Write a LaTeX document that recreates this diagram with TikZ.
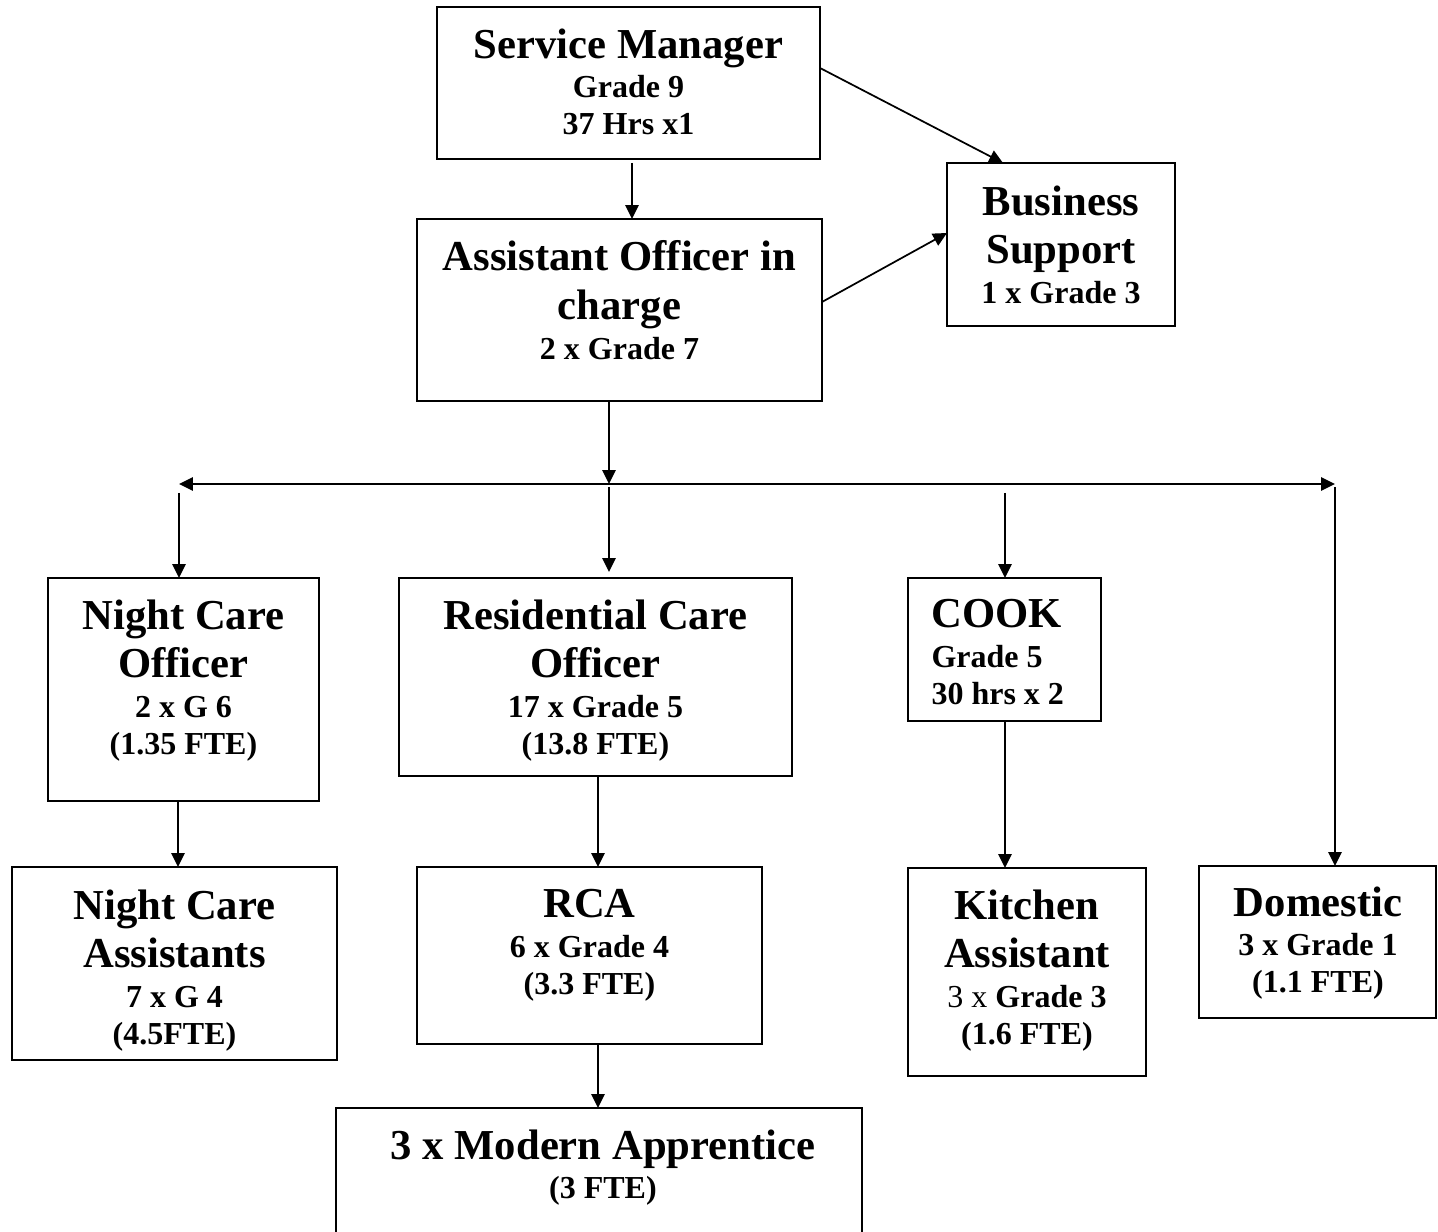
\documentclass[tikz,border=0pt]{standalone}
\usepackage{fontspec}
\setmainfont{Liberation Serif}
\usetikzlibrary{arrows.meta}
\newcommand\LG[1]{{\fontsize{16}{18.3}\selectfont #1}}
\newcommand\orgbox[5]{\node[box, minimum width={(#4-#2)*0.375pt}, minimum height={(#5-#3)*0.375pt}] (#1) at ({(#2+#4)/2},{(#3+#5)/2}) {};}
\setlength{\lineskiplimit}{-50pt}
\begin{document}
\begin{tikzpicture}[x=0.375pt,y=-0.375pt,
  box/.style={draw,line width=0.85pt,inner sep=0pt,outer sep=0pt,rectangle},
  txt/.style={inner sep=0pt,align=center,anchor=north,font=\fontsize{12}{13.7}\selectfont\bfseries},
  conn/.style={line width=0.65pt,-{Triangle[length=5.2pt,width=5pt]}},
  dconn/.style={line width=0.65pt,{Triangle[length=5.2pt,width=5pt]}-{Triangle[length=5.2pt,width=5pt]}},
]
\clip (0,0) rectangle (1438,1232);
\fill[white] (0,0) rectangle (1438,1232);

% boxes
\orgbox{sm}{437}{7}{820}{159}
\orgbox{bs}{947}{163}{1175}{326}
\orgbox{ao}{417}{219}{822}{401}
\orgbox{nco}{48}{578}{319}{801}
\orgbox{rco}{399}{578}{792}{776}
\orgbox{cook}{908}{578}{1101}{721}
\orgbox{nca}{12}{867}{337}{1060}
\orgbox{rca}{417}{867}{762}{1044}
\orgbox{ma}{336}{1108}{862}{1260}
\orgbox{ka}{908}{868}{1146}{1076}
\orgbox{dom}{1199}{866}{1436}{1018}

% texts
\node[txt] (sm-t) at (628.5,28) {\LG{Service Manager}\\[1.2pt] Grade 9\\ 37 Hrs x1};
\node[txt] (bs-t) at (1061,185) {\LG{Business}\\[4.6pt] \LG{Support}\\[1.2pt] 1 x Grade 3};
\node[txt] (ao-t) at (619.5,240) {\LG{Assistant Officer in}\\[4.6pt] \LG{charge}\\[1.2pt] 2 x Grade 7};
\node[txt] (nco-t) at (183.5,599) {\LG{Night Care}\\[4.6pt] \LG{Officer}\\[1.2pt] 2 x G 6\\ (1.35 FTE)};
\node[txt] (rco-t) at (595.5,599) {\LG{Residential Care}\\[4.6pt] \LG{Officer}\\[1.2pt] 17 x Grade 5\\ (13.8 FTE)};
\node[txt,align=left,anchor=north west] (cook-t) at (931,599) {\LG{COOK}\\[1.2pt] Grade 5\\ 30 hrs x 2};
\node[txt] (nca-t) at (174.5,889) {\LG{Night Care}\\[4.6pt] \LG{Assistants}\\[1.2pt] 7 x G 4\\ (4.5FTE)};
\node[txt] (rca-t) at (589.5,889) {\LG{RCA}\\[1.2pt] 6 x Grade 4\\ (3.3 FTE)};
\node[txt] (ma-t) at (603,1129) {\LG{3 x Modern Apprentice}\\[1.2pt] (3 FTE)};
\node[txt] (ka-t) at (1027,889) {\LG{Kitchen}\\[4.6pt] \LG{Assistant}\\[1.2pt] {\mdseries 3 x} Grade 3\\ (1.6 FTE)};
\node[txt] (dom-t) at (1318,886) {\LG{Domestic}\\[1.2pt] 3 x Grade 1\\ (1.1 FTE)};

% helper coordinates
\coordinate (c-sm) at (632,163);
\coordinate (a1) at (0,68);
\coordinate (a2) at (1003,0);
\coordinate (e1) at (0,302);
\coordinate (e2) at (0,233);
\coordinate (v1) at (609,0);
\coordinate (hl) at (179,484);
\coordinate (hr) at (1335,484);
\coordinate (d1) at (179,493);
\coordinate (d2) at (609,487);
\coordinate (d3) at (1005,493);
\coordinate (d4) at (1335,487);
\coordinate (v2) at (178,0);
\coordinate (v3) at (598,0);

% connectors
\draw[conn] (c-sm) -- (c-sm |- ao.north);
\draw[conn] (sm.east |- a1) -- (bs.north -| a2);
\draw[conn] (ao.east |- e1) -- (bs.west |- e2);
\draw[conn] (ao.south -| v1) -- (hl -| v1);
\draw[dconn] (hl) -- (hr);
\draw[conn] (d1) -- (d1 |- nco.north);
\draw[conn,shorten >=2.25pt] (d2) -- (d2 |- rco.north);
\draw[conn] (d3) -- (d3 |- cook.north);
\draw[conn] (d4) -- (d4 |- dom.north);
\draw[conn] (nco.south -| v2) -- (nca.north -| v2);
\draw[conn] (rco.south -| v3) -- (rca.north -| v3);
\draw[conn] (cook.south -| d3) -- (ka.north -| d3);
\draw[conn] (rca.south -| v3) -- (ma.north -| v3);
\end{tikzpicture}
\end{document}
